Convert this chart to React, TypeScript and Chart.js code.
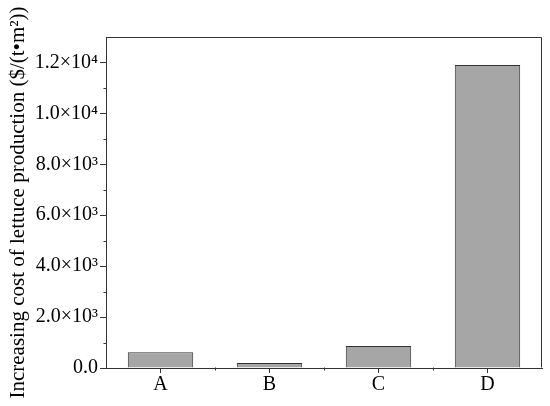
import React, { useEffect, useRef } from "react";
import { Chart, registerables } from "chart.js";

Chart.register(...registerables);

const categories = ["A", "B", "C", "D"];
const costValues = [620, 200, 860, 11900];
const yTickValues = [0, 2000, 4000, 6000, 8000, 10000, 12000];
const yTickLabels = ["0.0", "2.0×10³", "4.0×10³", "6.0×10³", "8.0×10³", "1.0×10⁴", "1.2×10⁴"];
const yMinorValues = [1000, 3000, 5000, 7000, 9000, 11000];
const yMax = 13000;
const yTitle = "Increasing cost of lettuce production ($/(t•m²))";

const FONT = "'Liberation Serif', 'Times New Roman', serif";
const AXIS = "#333333";

const framePlugin = {
  id: "frameAndMinor",
  afterDraw(chart: any) {
    const { ctx, chartArea } = chart;
    const xs = chart.scales.x;
    const ys = chart.scales.y;
    ctx.save();
    ctx.strokeStyle = AXIS;
    ctx.lineWidth = 1;
    ctx.beginPath();
    const l = Math.round(chartArea.left) + 0.5;
    const r = Math.round(chartArea.right) - 0.5;
    const t = Math.round(chartArea.top) + 0.5;
    const b = Math.round(chartArea.bottom) - 0.5;
    ctx.moveTo(l, t);
    ctx.lineTo(r, t);
    ctx.lineTo(r, b);
    yMinorValues.forEach((v) => {
      const y = Math.round(ys.getPixelForValue(v)) + 0.5;
      ctx.moveTo(l, y);
      ctx.lineTo(l - 3, y);
    });
    for (let i = 0; i < categories.length - 1; i++) {
      const x = Math.round((xs.getPixelForValue(i) + xs.getPixelForValue(i + 1)) / 2) + 0.5;
      ctx.moveTo(x, b);
      ctx.lineTo(x, b + 3);
    }
    ctx.stroke();
    ctx.restore();
  },
};

export default function App() {
  const ref = useRef<HTMLCanvasElement | null>(null);
  useEffect(() => {
    if (!ref.current) return;
    const chart = new Chart(ref.current, {
      type: "bar",
      data: {
        labels: categories,
        datasets: [
          {
            data: costValues,
            backgroundColor: "#a6a6a6",
            borderColor: "#333333",
            borderWidth: 1,
            barPercentage: 0.6,
            categoryPercentage: 1,
          },
        ],
      },
      options: {
        responsive: false,
        animation: false,
        devicePixelRatio: 1,
        layout: { padding: { left: 3, top: 37, right: 8, bottom: 0 } },
        plugins: { legend: { display: false }, tooltip: { enabled: false } },
        scales: {
          x: {
            afterFit: (s: any) => {
              s.height = 38;
            },
            grid: {
              offset: false,
              drawOnChartArea: false,
              drawTicks: true,
              tickLength: 5,
              tickColor: AXIS,
              tickWidth: 1,
            },
            border: { display: true, color: AXIS, width: 1 },
            ticks: {
              color: "#000",
              padding: 0,
              font: { family: FONT, size: 20 },
              maxRotation: 0,
            },
          },
          y: {
            min: 0,
            max: yMax,
            afterFit: (s: any) => {
              s.width = 103;
            },
            afterBuildTicks: (s: any) => {
              s.ticks = yTickValues.map((v) => ({ value: v }));
            },
            grid: {
              drawOnChartArea: false,
              drawTicks: true,
              tickLength: 6,
              tickColor: AXIS,
              tickWidth: 1,
            },
            border: { display: true, color: AXIS, width: 1 },
            ticks: {
              color: "#000",
              padding: 2,
              font: { family: FONT, size: 20 },
              callback: (v: any) => {
                const i = yTickValues.indexOf(Number(v));
                return i >= 0 ? yTickLabels[i] : "";
              },
            },
            title: {
              display: true,
              text: yTitle,
              color: "#000",
              font: { family: FONT, size: 21 },
              padding: { top: 3, bottom: 0 },
            },
          },
        },
      },
      plugins: [framePlugin],
    });
    return () => chart.destroy();
  }, []);
  return (
    <div style={{ position: "fixed", left: 0, top: 0, width: 550, height: 406, background: "#fff" }}>
      <canvas ref={ref} width={550} height={406} style={{ display: "block" }} />
    </div>
  );
}
